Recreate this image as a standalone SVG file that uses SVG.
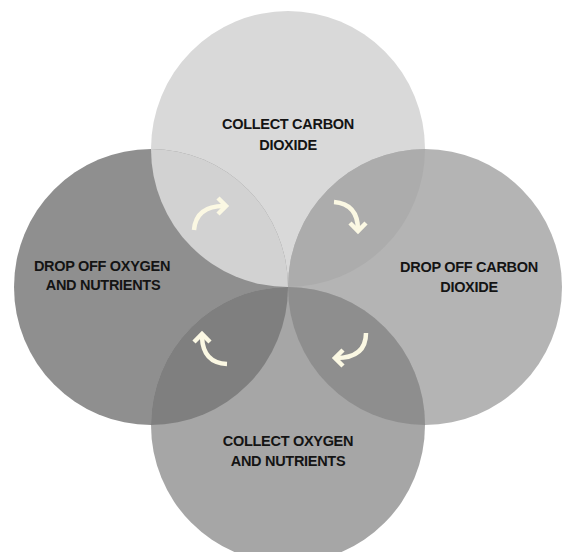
<svg xmlns="http://www.w3.org/2000/svg" width="562" height="552" viewBox="0 0 562 552">
<style>
.lbl{font-family:"Liberation Sans",Arial,sans-serif;font-weight:bold;font-size:14.5px;letter-spacing:-0.3px;fill:#141414;text-anchor:middle}
.arr{fill:none;stroke:#fbf8e3;stroke-width:4.5}
</style>
<defs>
<clipPath id="cTop"><ellipse cx="288" cy="149" rx="137" ry="138"/></clipPath>
<clipPath id="cBot"><ellipse cx="288" cy="425" rx="137" ry="138"/></clipPath>
</defs>
<rect width="562" height="552" fill="#ffffff"/>
<g id="node-top">
<ellipse cx="288" cy="149" rx="137" ry="138" fill="#d9d9d9"/>
</g>
<g id="node-left">
<ellipse cx="151" cy="287" rx="137" ry="138" fill="#8f8f8f"/>
</g>
<g id="node-right">
<ellipse cx="425" cy="287" rx="137" ry="138" fill="#b4b4b4"/>
</g>
<g id="node-bottom">
<ellipse cx="288" cy="425" rx="137" ry="138" fill="#a6a6a6"/>
</g>
<g id="overlaps">
<ellipse cx="151" cy="287" rx="137" ry="138" fill="#d2d2d2" clip-path="url(#cTop)"/>
<ellipse cx="425" cy="287" rx="137" ry="138" fill="#acacac" clip-path="url(#cTop)"/>
<ellipse cx="151" cy="287" rx="137" ry="138" fill="#7f7f7f" clip-path="url(#cBot)"/>
<ellipse cx="425" cy="287" rx="137" ry="138" fill="#8e8e8e" clip-path="url(#cBot)"/>
</g>
<g id="labels">
<text class="lbl" x="288" y="129">COLLECT CARBON</text>
<text class="lbl" x="288" y="150">DIOXIDE</text>
<text class="lbl" x="102" y="270.5">DROP OFF OXYGEN</text>
<text class="lbl" x="103" y="290">AND NUTRIENTS</text>
<text class="lbl" x="469" y="271.5">DROP OFF CARBON</text>
<text class="lbl" x="469" y="292">DIOXIDE</text>
<text class="lbl" x="288" y="446">COLLECT OXYGEN</text>
<text class="lbl" x="288" y="466">AND NUTRIENTS</text>
</g>
<g id="connectors">
<path class="arr" d="M194,230 Q196,206 224,206"/>
<polyline class="arr" points="218,198 226,206 218,214"/>
<path class="arr" d="M334,202 Q358,204 358,230"/>
<polyline class="arr" points="350,223 358,231 366,223"/>
<path class="arr" d="M366,333 Q366,358 336,358"/>
<polyline class="arr" points="343,350 335,358 343,366"/>
<path class="arr" d="M227,364 Q203,363 202,337"/>
<polyline class="arr" points="194,342 202,334 210,342"/>
</g>
</svg>
